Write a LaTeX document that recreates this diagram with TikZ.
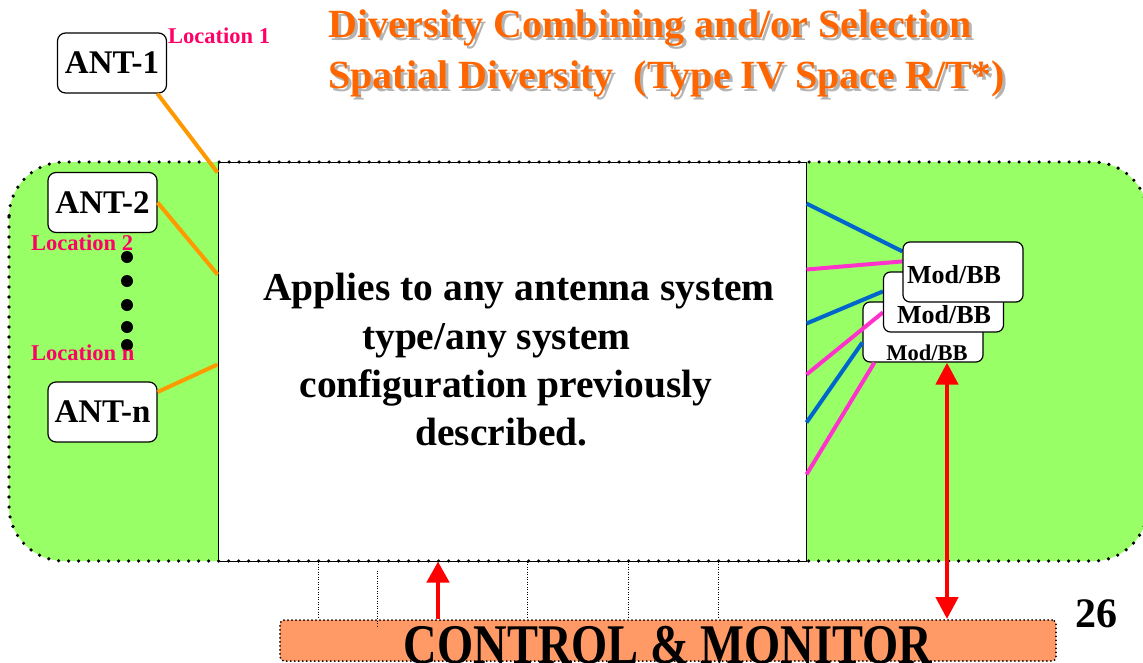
\documentclass[tikz,border=0pt]{standalone}
\usepackage{fontspec}
\usepackage{graphicx}
\setmainfont{Liberation Serif}
\usetikzlibrary{arrows.meta,calc}
\definecolor{grn}{RGB}{153,255,102}
\definecolor{ttl}{RGB}{255,102,0}
\definecolor{shd}{RGB}{180,180,180}
\definecolor{loc}{RGB}{255,0,102}
\definecolor{org}{RGB}{255,153,0}
\definecolor{blu}{RGB}{0,102,204}
\definecolor{pnk}{RGB}{255,51,204}
\definecolor{sal}{RGB}{255,153,102}
\pgfdeclarelayer{bg}
\pgfdeclarelayer{mid}
\pgfsetlayers{bg,mid,main}
\newcommand\fsz[1]{\fontsize{#1}{#1}\selectfont\bfseries}
\begin{document}
\begin{tikzpicture}[x=1pt,y=-1pt,
  antbox/.style={draw, fill=white, rounded corners=8pt, line width=1.2pt, minimum width=109pt, minimum height=60pt, inner sep=0pt, font=\fsz{33}},
  modbox/.style={draw, fill=white, rounded corners=7pt, line width=1.2pt, minimum width=120pt, minimum height=60pt, inner sep=0pt},
  dotline/.style={line width=3.6pt, dash pattern=on 0pt off 10pt, line cap=round},
  loctext/.style={anchor=base west, text=loc, inner sep=0pt, font=\fsz{22.5}},
  bodytext/.style={anchor=base, inner sep=0pt, font=\fsz{39.5}},
  orangeline/.style={draw=org, line width=4pt},
  blueline/.style={draw=blu, line width=4pt},
  pinkline/.style={draw=pnk, line width=4pt},
  redarrow/.style={draw=red, line width=4.5pt},
  thindot/.style={line width=0.7pt, dash pattern=on 1pt off 1.5pt},
  modtext/.style={anchor=base, inner sep=0pt}
]
\useasboundingbox (0,0) rectangle (1143,662);

\begin{pgfonlayer}{bg}
  \path[fill=grn, rounded corners=55pt] (9,162) rectangle (1148,561);
  \node[draw, fill=white, line width=1pt, minimum width=588pt, minimum height=399pt, inner sep=0pt] (wb) at (512,361.5) {};
  \draw[dotline, rounded corners=55pt] (9,162) rectangle (1148,561);
  \node[antbox] (ant1) at (112,63) {ANT-1};
  \node[antbox] (ant2) at (102.5,202.5) {ANT-2};
  \node[antbox] (antn) at (102.5,412) {ANT-n};
  \fill (127,257) circle (6pt) (127,281) circle (6pt) (127,305) circle (6pt) (127,327) circle (6pt) (127,345) circle (6pt);
  \node[loctext] (loc1) at (168,43) {Location 1};
  \node[loctext] (loc2) at (31,250) {Location 2};
  \node[loctext] (locn) at (31,360) {Location n};
  \node[modbox] (m3) at (923,332) {};
\end{pgfonlayer}

% invisible placement of the upper Mod/BB boxes for connectors
\begin{pgfonlayer}{mid}
  \draw[orangeline] (ant1.-34) -- ([yshift=-11pt]wb.north west);
  \draw[orangeline] (ant2.east) -- ([yshift=-113pt]wb.north west);
  \draw[orangeline] (antn.20) -- ([yshift=-203pt]wb.north west);
\end{pgfonlayer}

\node[modbox] (m2) at (943.5,302) {};
\node[modbox] (m1) at (963,272) {};

\begin{pgfonlayer}{mid}
  \draw[blueline] ([yshift=-42pt]wb.north east) -- ([yshift=-10pt]m1.north west);
  \draw[pinkline] ([yshift=-108pt]wb.north east) -- ([yshift=-20pt]m1.north west);
  \draw[blueline] ([yshift=-162pt]wb.north east) -- ([yshift=-20pt]m2.north west);
  \draw[pinkline] ([yshift=-213pt]wb.north east) -- ([yshift=-41pt]m2.north west);
  \draw[blueline] ([yshift=-261pt]wb.north east) -- ([yshift=-41pt]m3.north west);
  \draw[pinkline] ([yshift=-313pt]wb.north east) -- ([xshift=12pt]m3.south west);
\end{pgfonlayer}

\node[modtext, font=\fsz{26}] (m1t) at (954,283) {Mod/BB};
\node[modtext, font=\fsz{26}] (m2t) at (944,323) {Mod/BB};
\begin{pgfonlayer}{bg}
  \node[modtext, font=\fsz{22.5}] (m3t) at (927,360) {Mod/BB};
\end{pgfonlayer}

% title
\node[anchor=base west, text=shd, inner sep=0pt, font=\fsz{40}] (s1) at (331,40) {Diversity Combining and/or Selection};
\node[anchor=base west, text=ttl, inner sep=0pt, font=\fsz{40}] (h1) at (328,37) {Diversity Combining and/or Selection};
\node[anchor=base west, text=shd, inner sep=0pt, font=\fsz{40}] (s2) at (331,91) {Spatial Diversity\ \ (Type IV Space R/T*)};
\node[anchor=base west, text=ttl, inner sep=0pt, font=\fsz{40}] (h2) at (328,88) {Spatial Diversity\ \ (Type IV Space R/T*)};

% body text
\node[bodytext] (t1) at (519,300) {Applies to any antenna system};
\node[bodytext] (t2) at (496.5,349) {type/any system};
\node[bodytext] (t3) at (506,397) {configuration previously};
\node[bodytext] (t4) at (501.5,445) {described.};

% control box
\node[fill=sal, draw, line width=2pt, dash pattern=on 0pt off 4pt, line cap=round, rounded corners=4pt, minimum width=776pt, minimum height=41pt, inner sep=0pt] (cm) at (668,640.5) {};
\node[anchor=base, inner sep=0pt] (ct) at (668,663) {\scalebox{0.83}[1]{\fsz{56}CONTROL \& MONITOR}};

% thin dotted verticals
\draw[thindot] ([xshift=-194pt]wb.south) -- ([xshift=-350pt]cm.north);
\draw[thindot] ([xshift=-135pt,yshift=-9pt]wb.south) -- ([xshift=-291pt,yshift=-8pt]cm.north);
\draw[thindot] ([xshift=15pt]wb.south) -- ([xshift=-141pt]cm.north);
\draw[thindot] ([xshift=116pt]wb.south) -- ([xshift=-40pt]cm.north);
\draw[thindot] ([xshift=206pt]wb.south) -- ([xshift=50pt]cm.north);

% red arrows
\draw[redarrow, -{Triangle[width=22pt,length=21pt]}] ([xshift=-230pt]cm.north) -- ([xshift=-74pt]wb.south);
\draw[redarrow, {Triangle[width=22pt,length=22pt]}-{Triangle[width=22pt,length=22pt]}] ([xshift=24pt]m3.south) -- ([xshift=279pt]cm.north);

\node[anchor=base, inner sep=0pt, font=\fsz{42}] (pg) at (1096,627) {26};
\end{tikzpicture}
\end{document}
